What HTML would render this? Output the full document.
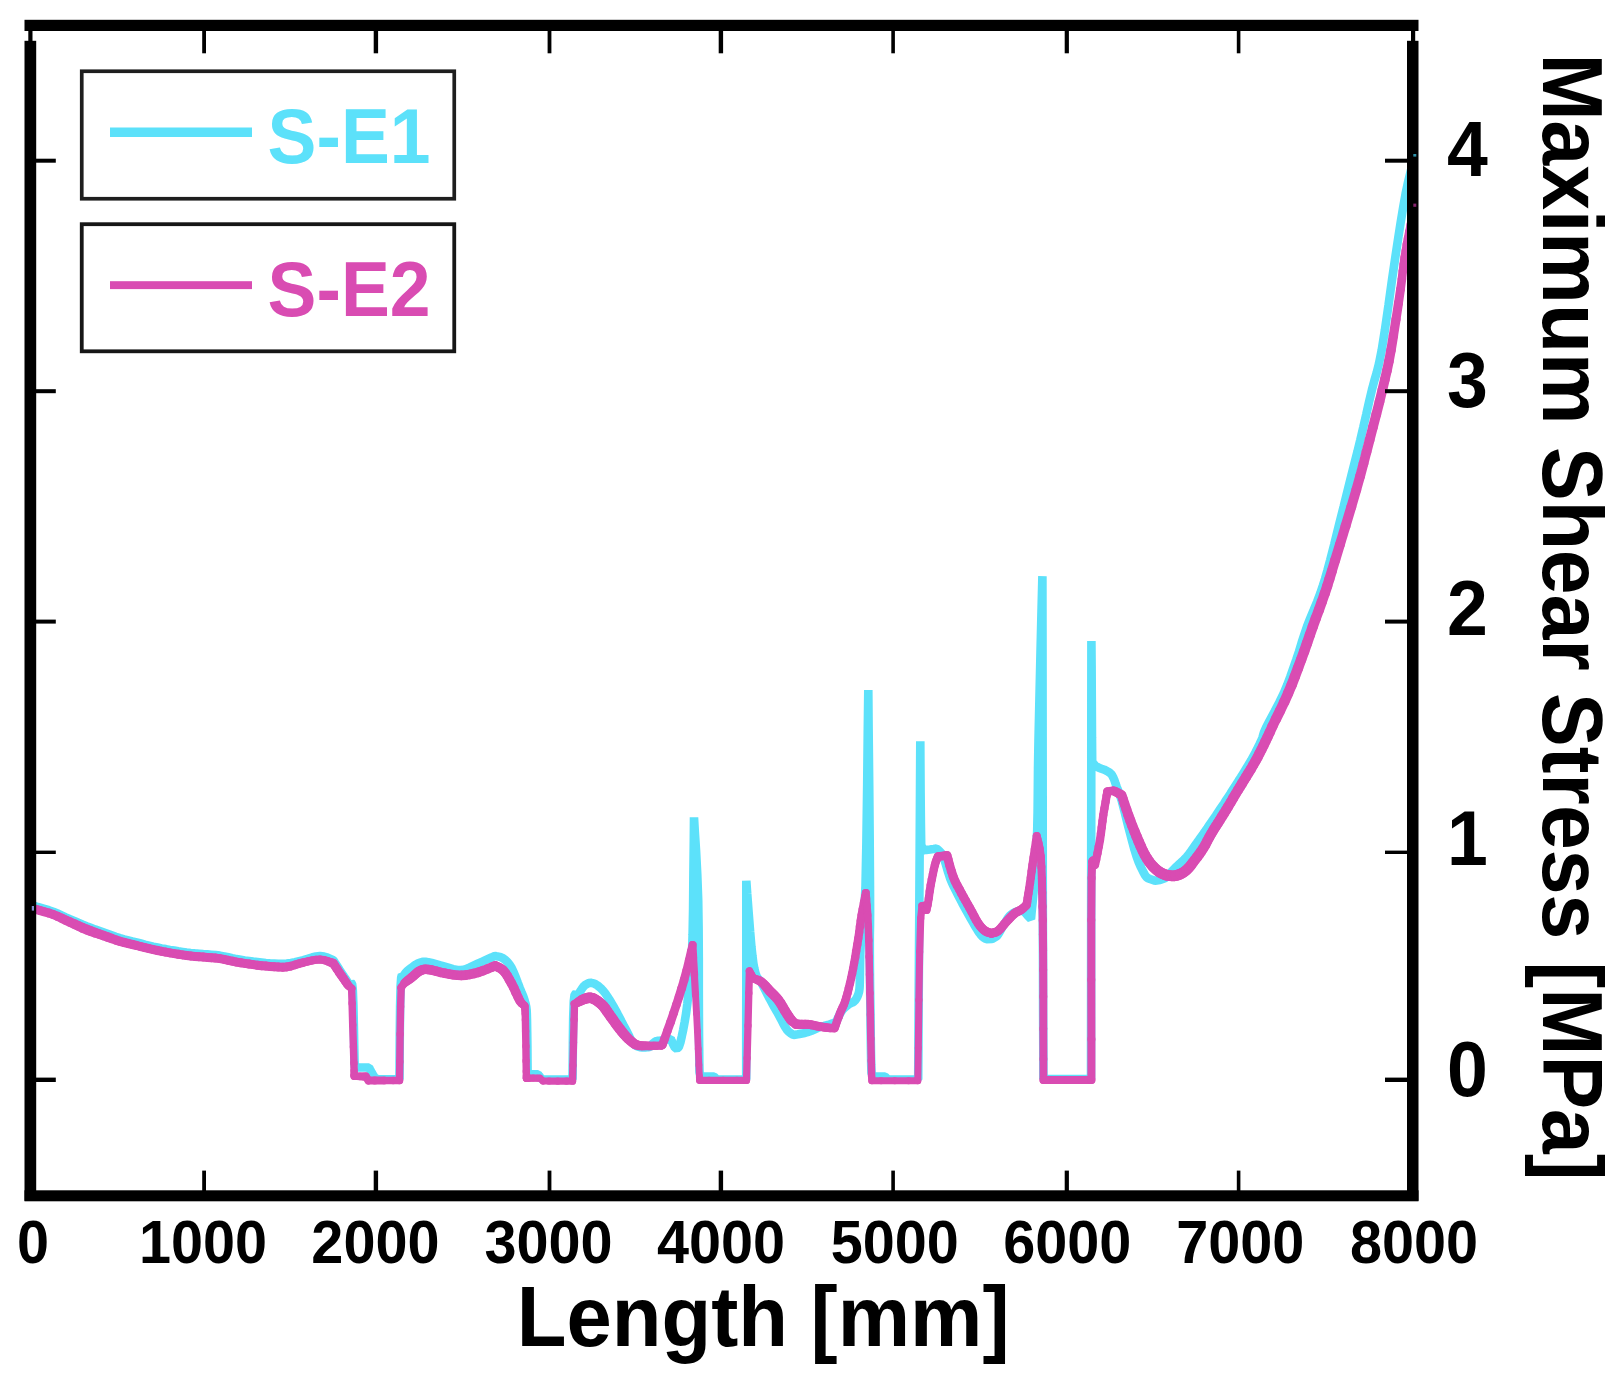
<!DOCTYPE html>
<html lang="en">
<head>
<meta charset="utf-8">
<title>Maximum Shear Stress vs Length</title>
<style>
html,body{margin:0;padding:0;background:#fff;}
body{width:1621px;height:1382px;overflow:hidden;position:relative;}
svg{display:block;position:absolute;left:0;top:0;filter:blur(0.55px);}
text{font-family:"Liberation Sans",Arial,Helvetica,sans-serif;font-weight:700;fill:#000;}
.xt{font-size:57.6px;text-anchor:middle;}
.yt{font-size:73.4px;text-anchor:start;}
.xl{font-size:81.4px;text-anchor:start;}
.yl{font-size:80.5px;text-anchor:start;}
.lg{font-size:73.3px;text-anchor:start;}
</style>
</head>
<body>
<svg width="1621" height="1382" viewBox="0 0 1621 1382">
<rect x="0" y="0" width="1621" height="1382" fill="#ffffff"/>
<!-- data series -->
<defs><clipPath id="plotclip"><rect x="26" y="22" width="1391" height="1178"/></clipPath></defs>
<g clip-path="url(#plotclip)">
<g fill="none" stroke-linejoin="bevel" stroke-linecap="butt">
<polyline stroke="#5ce1fa" stroke-width="8.6" points="29.0,904.6 30.2,904.9 31.8,905.3 34.0,905.9 36.7,906.7 40.2,907.7 44.4,908.9 48.9,910.2 53.3,911.7 57.5,913.4 61.6,915.3 65.8,917.3 70.0,919.2 74.2,921.0 78.3,922.8 82.4,924.5 86.6,926.2 90.8,927.8 94.9,929.4 99.1,930.9 103.3,932.4 107.5,933.9 111.7,935.4 115.8,936.9 120.0,938.2 124.2,939.4 128.3,940.4 132.4,941.4 136.6,942.4 140.8,943.5 144.9,944.6 149.1,945.6 153.3,946.6 157.5,947.5 161.7,948.4 165.8,949.1 170.0,949.9 174.2,950.6 178.3,951.3 182.5,951.9 186.6,952.5 190.7,953.0 194.9,953.4 199.0,953.7 203.2,954.1 207.4,954.4 211.5,954.7 215.7,955.1 219.9,955.6 224.1,956.4 228.2,957.3 232.3,958.2 236.5,959.1 240.7,959.8 244.8,960.5 249.0,961.0 253.2,961.6 257.4,962.1 261.6,962.6 265.8,963.1 270.0,963.4 274.2,963.6 278.4,963.8 282.5,963.8 286.7,963.5 290.9,962.9 295.0,962.1 299.1,961.1 303.3,960.1 307.5,958.9 311.9,957.5 316.1,956.4 320.0,955.9 323.9,956.5 327.7,957.7 331.0,959.1 333.3,960.1 334.9,962.6 337.2,966.1 339.7,970.0 342.0,973.5 343.9,976.4 345.8,979.2 347.5,981.8 349.0,984.0 350.2,984.2 351.2,983.0 352.1,983.8 352.8,990.0 353.4,1005.4 353.9,1027.2 354.3,1048.9 354.6,1064.0 355.0,1067.5 357.8,1067.5 362.0,1067.5 366.2,1067.5 369.0,1067.5 370.1,1069.6 371.8,1072.7 373.6,1075.8 375.0,1078.0 378.0,1079.3 382.6,1079.4 388.9,1079.4 395.2,1079.3 399.5,1079.3 399.6,1060.6 399.8,1033.3 400.1,1005.7 400.6,986.0 401.2,977.4 401.9,975.1 402.8,975.6 404.0,975.0 405.6,972.8 407.5,970.9 409.6,969.2 411.6,967.6 413.6,966.1 415.7,964.7 417.8,963.5 419.9,962.6 421.8,962.1 423.5,961.8 425.5,961.8 428.2,962.2 431.8,963.0 436.0,964.2 440.5,965.5 444.9,966.7 449.1,967.9 453.2,969.1 457.3,970.0 461.5,970.1 465.7,969.2 469.8,967.4 474.0,965.4 478.2,963.4 482.8,961.4 487.6,959.2 491.9,957.3 494.9,955.9 496.4,956.2 498.5,956.6 500.9,957.2 503.2,958.4 505.3,960.0 507.4,961.9 509.4,964.4 511.5,967.6 513.6,972.0 515.8,977.4 517.9,983.0 519.8,988.0 521.5,992.2 523.1,996.0 524.4,999.7 525.5,1003.5 526.2,1006.7 526.6,1009.5 526.8,1013.4 527.0,1020.0 527.2,1031.7 527.4,1046.9 527.5,1061.7 527.6,1072.0 527.8,1074.2 529.9,1074.2 532.9,1074.2 535.9,1074.2 538.0,1074.2 538.8,1075.3 540.0,1076.9 541.2,1078.4 542.0,1079.5 548.2,1079.5 557.2,1079.5 566.3,1079.5 572.5,1079.5 572.7,1063.7 572.9,1040.6 573.2,1017.4 573.8,1001.0 574.6,994.5 575.6,993.7 576.8,995.0 578.0,995.0 579.4,992.8 580.9,990.3 582.5,987.9 584.0,986.0 585.6,984.7 587.4,983.7 588.9,983.1 590.0,982.6 591.0,982.8 592.5,983.2 594.3,983.7 596.0,984.5 597.7,985.6 599.5,987.1 601.4,988.8 603.3,990.9 605.3,993.4 607.3,996.4 609.4,999.6 611.5,1003.0 613.6,1006.7 615.8,1010.6 617.9,1014.6 619.9,1018.3 621.7,1021.7 623.4,1024.9 625.0,1027.9 626.6,1031.0 628.2,1034.2 629.8,1037.5 631.4,1040.6 633.0,1043.0 634.6,1044.7 636.3,1045.9 638.0,1046.6 640.0,1047.2 642.5,1047.5 645.4,1047.4 648.1,1047.1 650.0,1047.0 650.9,1046.0 652.1,1044.4 653.6,1042.9 655.0,1041.7 656.5,1041.1 658.0,1040.8 659.6,1040.7 661.0,1040.5 665.5,1040.0 670.7,1038.4 671.1,1039.5 671.7,1041.0 672.4,1042.6 673.0,1044.0 674.8,1047.5 676.8,1048.8 678.8,1047.0 680.5,1042.0 681.7,1036.7 683.2,1029.8 684.7,1021.7 686.1,1013.2 687.3,1004.0 688.4,993.8 689.3,983.4 690.2,973.3 690.9,965.5 691.6,959.0 692.1,950.1 692.6,935.0 693.1,908.4 693.4,873.8 693.8,840.4 694.0,817.4 694.8,831.5 696.1,851.6 697.3,875.3 698.2,900.0 698.6,927.4 698.8,958.0 698.8,987.8 698.9,1013.0 699.0,1032.8 699.2,1049.3 699.3,1062.3 699.5,1072.0 700.5,1076.5 703.2,1076.5 707.2,1076.5 711.3,1076.5 714.0,1076.5 717.0,1079.5 722.9,1079.5 731.6,1079.5 740.3,1079.5 746.2,1079.5 746.2,1039.1 746.3,980.1 746.3,921.1 746.3,880.7 747.2,893.5 748.6,912.0 750.1,931.3 751.4,946.6 752.5,956.4 753.4,963.5 754.4,968.7 755.5,973.3 756.8,976.8 758.2,978.8 759.8,980.5 761.5,983.0 763.4,986.5 765.5,990.6 767.6,994.8 769.8,999.0 772.1,1003.1 774.4,1007.4 776.8,1011.5 779.0,1015.5 781.1,1019.4 783.0,1023.2 784.9,1026.7 786.7,1029.5 788.6,1031.6 790.5,1033.1 792.1,1034.2 793.3,1035.0 795.1,1034.7 797.8,1034.3 800.7,1033.7 803.3,1033.2 805.5,1032.7 807.5,1032.1 809.6,1031.4 811.6,1030.7 813.7,1029.8 815.8,1028.8 817.9,1027.8 820.0,1027.0 822.0,1026.4 824.0,1026.0 826.0,1025.5 828.0,1025.0 830.2,1024.2 832.5,1023.4 834.6,1022.6 836.0,1022.0 837.1,1019.8 838.6,1016.6 840.3,1013.3 842.0,1010.5 843.7,1008.5 845.6,1006.8 847.4,1005.4 849.1,1004.1 850.7,1003.2 852.2,1002.6 853.6,1001.9 854.9,1000.7 856.1,999.0 857.3,996.9 858.3,994.4 859.1,991.6 859.5,988.7 859.7,985.6 859.8,981.8 859.9,976.6 860.0,970.1 860.1,962.6 860.3,953.7 860.8,943.3 861.8,933.9 863.0,924.8 864.4,910.6 865.5,886.0 866.4,842.2 867.2,784.4 867.8,728.5 868.3,690.0 868.6,728.3 869.2,784.0 869.7,841.7 870.0,886.0 870.1,911.0 870.0,925.5 869.8,936.2 869.8,950.0 869.9,968.8 870.1,989.1 870.4,1008.8 870.6,1026.0 870.8,1040.8 871.0,1054.0 871.2,1065.0 871.5,1073.0 873.0,1076.5 875.4,1076.5 879.0,1076.5 882.6,1076.5 885.0,1076.5 888.0,1079.5 894.1,1079.5 903.1,1079.5 912.1,1079.5 918.2,1079.5 918.6,1010.8 919.3,910.4 919.9,810.0 920.3,741.3 920.4,762.2 920.6,792.8 920.9,823.6 921.2,845.0 923.5,850.2 924.7,850.1 926.3,849.9 928.2,849.7 930.0,849.5 931.8,849.2 933.7,849.0 935.3,848.7 936.5,848.5 937.7,849.5 939.3,850.9 941.2,852.9 943.0,856.0 944.7,860.6 946.4,866.4 948.2,872.5 950.0,878.0 951.9,882.6 953.9,886.9 955.9,890.9 958.0,895.0 960.1,899.1 962.2,903.1 964.4,907.1 966.5,911.0 968.7,915.0 970.9,918.9 973.1,922.7 975.0,926.0 976.7,928.8 978.2,931.2 979.6,933.2 981.0,935.0 982.4,936.5 983.8,937.6 985.1,938.5 986.5,939.1 992.0,939.0 997.0,936.0 998.4,934.0 999.9,931.5 1001.4,928.7 1003.0,926.0 1004.7,923.3 1006.4,920.4 1008.2,917.7 1010.0,915.5 1011.8,914.0 1013.5,912.9 1015.2,912.1 1017.0,911.5 1018.9,911.1 1020.9,911.0 1022.7,911.0 1024.0,911.0 1024.7,911.9 1025.8,913.3 1027.0,914.8 1028.0,916.0 1031.0,919.0 1031.6,912.2 1032.6,902.6 1033.6,891.4 1034.5,880.0 1035.3,869.2 1036.0,858.2 1036.6,845.6 1037.2,830.0 1037.6,812.0 1037.8,792.1 1038.0,768.6 1038.5,740.0 1039.4,700.4 1040.5,652.5 1041.6,607.4 1042.4,576.2 1042.5,637.8 1042.6,726.9 1042.7,821.6 1042.8,900.0 1043.0,959.1 1043.1,1009.7 1043.3,1050.2 1043.4,1079.0 1053.1,1079.0 1067.2,1079.0 1081.3,1079.0 1091.0,1079.0 1091.1,990.0 1091.2,860.0 1091.3,730.0 1091.4,641.0 1091.6,665.6 1091.8,701.5 1092.0,737.4 1092.2,762.0 1092.9,762.8 1093.8,764.0 1095.0,765.4 1096.6,766.6 1098.8,767.7 1101.5,768.7 1104.3,769.7 1106.6,770.8 1108.4,771.9 1109.9,772.9 1111.2,774.1 1112.4,775.8 1113.5,778.0 1114.6,780.7 1115.5,783.6 1116.6,786.6 1117.7,789.5 1118.9,792.3 1120.1,795.7 1121.5,800.0 1123.0,805.6 1124.7,812.3 1126.5,819.4 1128.3,826.6 1130.3,834.1 1132.4,842.1 1134.5,849.8 1136.6,856.6 1138.7,862.3 1141.0,867.4 1143.1,871.6 1144.9,874.9 1146.4,877.0 1147.7,878.0 1148.8,878.5 1150.0,879.0 1154.9,880.7 1160.0,880.0 1164.9,878.2 1167.0,876.3 1169.5,873.8 1172.2,871.0 1174.9,868.2 1177.8,865.5 1180.8,862.7 1183.9,859.8 1186.6,857.0 1188.9,854.1 1191.0,851.3 1193.0,848.4 1195.0,845.5 1197.1,842.6 1199.1,839.8 1201.1,836.9 1203.2,834.0 1205.3,831.0 1207.3,828.1 1209.4,825.0 1211.5,822.0 1213.6,818.9 1215.7,815.8 1217.8,812.6 1219.9,809.5 1222.0,806.4 1224.1,803.3 1226.1,800.2 1228.2,797.0 1230.3,793.8 1232.3,790.6 1234.4,787.3 1236.5,784.0 1238.6,780.7 1240.8,777.3 1242.9,773.9 1245.0,770.5 1247.1,767.1 1249.1,763.7 1251.2,760.2 1253.2,756.5 1255.4,752.5 1257.6,748.1 1259.7,743.9 1261.5,740.0 1262.6,737.2 1263.2,735.0 1264.0,732.3 1266.0,727.8 1269.6,720.7 1274.4,711.8 1279.4,702.2 1283.8,693.1 1287.3,684.7 1290.4,676.4 1293.3,668.1 1296.2,659.8 1299.0,651.5 1301.5,643.2 1304.2,634.9 1307.0,626.6 1310.2,618.3 1313.7,610.0 1317.2,601.6 1320.3,593.3 1322.8,585.8 1325.0,579.0 1327.3,570.9 1330.2,560.0 1334.2,544.6 1338.8,525.9 1343.6,506.8 1347.8,489.8 1351.3,475.9 1354.4,463.6 1357.4,451.9 1360.3,439.9 1363.3,427.2 1366.3,414.3 1369.1,401.7 1371.9,389.9 1374.4,380.5 1376.7,372.7 1379.0,363.5 1381.7,350.1 1384.9,330.0 1388.5,305.2 1392.0,279.8 1395.3,257.4 1398.1,238.8 1400.7,222.1 1403.2,207.2 1405.6,193.7 1408.2,181.5 1410.9,170.6 1413.3,161.8 1414.9,155.5"/>
</g>
<g fill="none" stroke="#d94cb2" stroke-linecap="round">
<path stroke-width="9.0" d="M29.0 907.5L30.2 907.8"/>
<path stroke-width="9.0" d="M30.2 907.8L31.8 908.2"/>
<path stroke-width="9.0" d="M31.8 908.2L34.0 908.8"/>
<path stroke-width="9.0" d="M34.0 908.8L36.7 909.6"/>
<path stroke-width="9.0" d="M36.7 909.6L40.2 910.6"/>
<path stroke-width="9.0" d="M40.2 910.6L44.4 911.8"/>
<path stroke-width="9.0" d="M44.4 911.8L48.9 913.1"/>
<path stroke-width="9.0" d="M48.9 913.1L53.3 914.6"/>
<path stroke-width="9.1" d="M53.3 914.6L57.5 916.3"/>
<path stroke-width="9.2" d="M57.5 916.3L61.6 918.2"/>
<path stroke-width="9.3" d="M61.6 918.2L65.8 920.2"/>
<path stroke-width="9.4" d="M65.8 920.2L70.0 922.1"/>
<path stroke-width="9.6" d="M70.0 922.1L74.2 924.0"/>
<path stroke-width="9.7" d="M74.2 924.0L78.3 925.9"/>
<path stroke-width="9.8" d="M78.3 925.9L82.4 927.8"/>
<path stroke-width="9.9" d="M82.4 927.8L86.6 929.5"/>
<path stroke-width="9.9" d="M86.6 929.5L90.8 931.1"/>
<path stroke-width="9.8" d="M90.8 931.1L94.9 932.6"/>
<path stroke-width="9.7" d="M94.9 932.6L99.1 934.0"/>
<path stroke-width="9.6" d="M99.1 934.0L103.3 935.5"/>
<path stroke-width="9.5" d="M103.3 935.5L107.5 937.0"/>
<path stroke-width="9.4" d="M107.5 937.0L111.7 938.5"/>
<path stroke-width="9.3" d="M111.7 938.5L115.8 940.0"/>
<path stroke-width="9.2" d="M115.8 940.0L120.0 941.3"/>
<path stroke-width="9.2" d="M120.0 941.3L124.2 942.5"/>
<path stroke-width="9.1" d="M124.2 942.5L128.3 943.5"/>
<path stroke-width="9.1" d="M128.3 943.5L132.4 944.5"/>
<path stroke-width="9.0" d="M132.4 944.5L136.6 945.5"/>
<path stroke-width="9.0" d="M136.6 945.5L140.8 946.6"/>
<path stroke-width="9.0" d="M140.8 946.6L144.9 947.6"/>
<path stroke-width="9.0" d="M144.9 947.6L149.1 948.6"/>
<path stroke-width="9.0" d="M149.1 948.6L153.3 949.6"/>
<path stroke-width="9.0" d="M153.3 949.6L157.5 950.5"/>
<path stroke-width="9.0" d="M157.5 950.5L161.7 951.3"/>
<path stroke-width="9.0" d="M161.7 951.3L165.8 952.1"/>
<path stroke-width="9.0" d="M165.8 952.1L170.0 952.9"/>
<path stroke-width="9.0" d="M170.0 952.9L174.2 953.6"/>
<path stroke-width="9.0" d="M174.2 953.6L178.3 954.3"/>
<path stroke-width="9.0" d="M178.3 954.3L182.5 954.9"/>
<path stroke-width="9.0" d="M182.5 954.9L186.6 955.5"/>
<path stroke-width="9.0" d="M186.6 955.5L190.7 956.0"/>
<path stroke-width="9.0" d="M190.7 956.0L194.9 956.4"/>
<path stroke-width="9.0" d="M194.9 956.4L199.0 956.7"/>
<path stroke-width="9.0" d="M199.0 956.7L203.2 957.1"/>
<path stroke-width="9.0" d="M203.2 957.1L207.4 957.4"/>
<path stroke-width="9.0" d="M207.4 957.4L211.5 957.7"/>
<path stroke-width="9.0" d="M211.5 957.7L215.7 958.1"/>
<path stroke-width="9.0" d="M215.7 958.1L219.9 958.6"/>
<path stroke-width="9.0" d="M219.9 958.6L224.1 959.4"/>
<path stroke-width="9.0" d="M224.1 959.4L228.2 960.3"/>
<path stroke-width="9.0" d="M228.2 960.3L232.3 961.2"/>
<path stroke-width="9.0" d="M232.3 961.2L236.5 962.1"/>
<path stroke-width="9.0" d="M236.5 962.1L240.7 962.8"/>
<path stroke-width="9.0" d="M240.7 962.8L244.8 963.4"/>
<path stroke-width="9.0" d="M244.8 963.4L249.0 964.0"/>
<path stroke-width="9.0" d="M249.0 964.0L253.2 964.6"/>
<path stroke-width="9.0" d="M253.2 964.6L257.4 965.2"/>
<path stroke-width="9.0" d="M257.4 965.2L261.6 965.7"/>
<path stroke-width="9.0" d="M261.6 965.7L265.8 966.1"/>
<path stroke-width="9.0" d="M265.8 966.1L270.0 966.5"/>
<path stroke-width="9.0" d="M270.0 966.5L274.2 966.8"/>
<path stroke-width="9.0" d="M274.2 966.8L278.4 967.1"/>
<path stroke-width="9.0" d="M278.4 967.1L282.5 967.2"/>
<path stroke-width="9.0" d="M282.5 967.2L286.7 966.9"/>
<path stroke-width="8.9" d="M286.7 966.9L290.9 966.1"/>
<path stroke-width="8.8" d="M290.9 966.1L295.0 964.9"/>
<path stroke-width="8.7" d="M295.0 964.9L299.1 963.6"/>
<path stroke-width="8.6" d="M299.1 963.6L303.3 962.5"/>
<path stroke-width="8.4" d="M303.3 962.5L307.5 961.5"/>
<path stroke-width="8.3" d="M307.5 961.5L311.9 960.5"/>
<path stroke-width="8.2" d="M311.9 960.5L316.1 959.8"/>
<path stroke-width="8.1" d="M316.1 959.8L320.0 959.6"/>
<path stroke-width="8.1" d="M320.0 959.6L323.9 960.1"/>
<path stroke-width="8.4" d="M323.9 960.1L327.7 961.3"/>
<path stroke-width="8.6" d="M327.7 961.3L331.0 962.5"/>
<path stroke-width="8.9" d="M331.0 962.5L333.3 963.3"/>
<path stroke-width="9.0" d="M333.3 963.3L334.8 965.6"/>
<path stroke-width="9.0" d="M334.8 965.6L337.0 968.9"/>
<path stroke-width="9.0" d="M337.0 968.9L339.4 972.6"/>
<path stroke-width="9.0" d="M339.4 972.6L341.6 975.8"/>
<path stroke-width="8.9" d="M341.6 975.8L343.5 978.6"/>
<path stroke-width="8.8" d="M343.5 978.6L345.3 981.2"/>
<path stroke-width="8.7" d="M345.3 981.2L346.9 983.6"/>
<path stroke-width="8.6" d="M346.9 983.6L348.3 985.5"/>
<path stroke-width="8.0" d="M348.3 985.5L351.6 988.5"/>
<path stroke-width="7.4" d="M351.6 988.5L352.1 1003.3"/>
<path stroke-width="7.4" d="M352.1 1003.3L352.7 1024.9"/>
<path stroke-width="7.4" d="M352.7 1024.9L353.4 1046.9"/>
<path stroke-width="7.4" d="M353.4 1046.9L353.9 1063.0"/>
<path stroke-width="7.4" d="M353.9 1063.0L354.1 1070.9"/>
<path stroke-width="7.4" d="M354.1 1070.9L354.2 1074.3"/>
<path stroke-width="7.4" d="M354.2 1074.3L354.2 1075.3"/>
<path stroke-width="7.4" d="M354.2 1075.3L354.2 1076.3"/>
<path stroke-width="7.5" d="M354.2 1076.3L356.6 1076.3"/>
<path stroke-width="7.6" d="M356.6 1076.3L360.0 1076.4"/>
<path stroke-width="7.8" d="M360.0 1076.4L363.4 1076.5"/>
<path stroke-width="7.9" d="M363.4 1076.5L365.8 1076.5"/>
<path stroke-width="8.0" d="M365.8 1076.5L368.5 1080.5"/>
<path stroke-width="7.9" d="M368.5 1080.5L374.8 1080.5"/>
<path stroke-width="7.8" d="M374.8 1080.5L384.0 1080.5"/>
<path stroke-width="7.6" d="M384.0 1080.5L393.2 1080.5"/>
<path stroke-width="7.5" d="M393.2 1080.5L399.5 1080.5"/>
<path stroke-width="7.4" d="M399.5 1080.5L399.8 1061.7"/>
<path stroke-width="7.4" d="M399.8 1061.7L400.1 1034.3"/>
<path stroke-width="7.4" d="M400.1 1034.3L400.6 1006.7"/>
<path stroke-width="7.4" d="M400.6 1006.7L401.2 987.5"/>
<path stroke-width="8.0" d="M401.2 987.5L404.5 983.0"/>
<path stroke-width="8.6" d="M404.5 983.0L406.0 981.7"/>
<path stroke-width="8.9" d="M406.0 981.7L407.7 980.4"/>
<path stroke-width="9.1" d="M407.7 980.4L409.7 979.0"/>
<path stroke-width="9.4" d="M409.7 979.0L411.6 977.5"/>
<path stroke-width="9.5" d="M411.6 977.5L413.6 975.8"/>
<path stroke-width="9.5" d="M413.6 975.8L415.7 973.9"/>
<path stroke-width="9.6" d="M415.7 973.9L417.8 972.1"/>
<path stroke-width="9.6" d="M417.8 972.1L419.9 970.8"/>
<path stroke-width="9.6" d="M419.9 970.8L421.8 970.0"/>
<path stroke-width="9.6" d="M421.8 970.0L423.5 969.5"/>
<path stroke-width="9.6" d="M423.5 969.5L425.5 969.3"/>
<path stroke-width="9.6" d="M425.5 969.3L428.2 969.5"/>
<path stroke-width="9.6" d="M428.2 969.5L431.8 970.1"/>
<path stroke-width="9.6" d="M431.8 970.1L436.0 971.2"/>
<path stroke-width="9.6" d="M436.0 971.2L440.5 972.4"/>
<path stroke-width="9.6" d="M440.5 972.4L444.9 973.3"/>
<path stroke-width="9.6" d="M444.9 973.3L449.1 974.1"/>
<path stroke-width="9.6" d="M449.1 974.1L453.2 974.8"/>
<path stroke-width="9.6" d="M453.2 974.8L457.3 975.3"/>
<path stroke-width="9.6" d="M457.3 975.3L461.5 975.4"/>
<path stroke-width="9.6" d="M461.5 975.4L465.7 975.1"/>
<path stroke-width="9.6" d="M465.7 975.1L469.8 974.4"/>
<path stroke-width="9.6" d="M469.8 974.4L474.0 973.5"/>
<path stroke-width="9.6" d="M474.0 973.5L478.2 972.4"/>
<path stroke-width="9.6" d="M478.2 972.4L482.8 970.8"/>
<path stroke-width="9.6" d="M482.8 970.8L487.6 968.9"/>
<path stroke-width="9.6" d="M487.6 968.9L491.9 967.1"/>
<path stroke-width="9.6" d="M491.9 967.1L494.9 965.8"/>
<path stroke-width="9.6" d="M494.9 965.8L496.4 966.4"/>
<path stroke-width="9.6" d="M496.4 966.4L498.5 967.3"/>
<path stroke-width="9.6" d="M498.5 967.3L500.9 968.6"/>
<path stroke-width="9.6" d="M500.9 968.6L503.2 970.4"/>
<path stroke-width="9.6" d="M503.2 970.4L505.3 972.9"/>
<path stroke-width="9.6" d="M505.3 972.9L507.4 976.0"/>
<path stroke-width="9.6" d="M507.4 976.0L509.4 979.6"/>
<path stroke-width="9.6" d="M509.4 979.6L511.5 983.3"/>
<path stroke-width="9.5" d="M511.5 983.3L513.7 987.6"/>
<path stroke-width="9.4" d="M513.7 987.6L515.9 992.5"/>
<path stroke-width="9.2" d="M515.9 992.5L518.0 997.1"/>
<path stroke-width="9.1" d="M518.0 997.1L519.8 1000.7"/>
<path stroke-width="8.8" d="M519.8 1000.7L521.4 1003.0"/>
<path stroke-width="8.4" d="M521.4 1003.0L522.8 1004.4"/>
<path stroke-width="8.0" d="M522.8 1004.4L524.0 1005.3"/>
<path stroke-width="7.6" d="M524.0 1005.3L524.8 1006.0"/>
<path stroke-width="7.4" d="M524.8 1006.0L524.9 1007.6"/>
<path stroke-width="7.4" d="M524.9 1007.6L525.0 1009.8"/>
<path stroke-width="7.4" d="M525.0 1009.8L525.2 1013.5"/>
<path stroke-width="7.4" d="M525.2 1013.5L525.4 1020.0"/>
<path stroke-width="7.4" d="M525.4 1020.0L525.6 1031.3"/>
<path stroke-width="7.4" d="M525.6 1031.3L525.9 1046.2"/>
<path stroke-width="7.4" d="M525.9 1046.2L526.1 1060.9"/>
<path stroke-width="7.4" d="M526.1 1060.9L526.3 1071.5"/>
<path stroke-width="7.4" d="M526.3 1071.5L526.4 1076.5"/>
<path stroke-width="7.4" d="M526.4 1076.5L526.5 1078.1"/>
<path stroke-width="7.4" d="M526.5 1078.1L526.5 1078.0"/>
<path stroke-width="7.4" d="M526.5 1078.0L526.5 1078.2"/>
<path stroke-width="7.4" d="M526.5 1078.2L529.2 1078.2"/>
<path stroke-width="7.2" d="M529.2 1078.2L533.2 1078.2"/>
<path stroke-width="7.2" d="M533.2 1078.2L537.3 1078.2"/>
<path stroke-width="7.0" d="M537.3 1078.2L540.0 1078.2"/>
<path stroke-width="7.0" d="M540.0 1078.2L543.0 1081.1"/>
<path stroke-width="7.0" d="M543.0 1081.1L549.0 1081.1"/>
<path stroke-width="7.2" d="M549.0 1081.1L557.8 1081.1"/>
<path stroke-width="7.2" d="M557.8 1081.1L566.5 1081.1"/>
<path stroke-width="7.4" d="M566.5 1081.1L572.5 1081.1"/>
<path stroke-width="7.4" d="M572.5 1081.1L572.9 1065.4"/>
<path stroke-width="7.4" d="M572.9 1065.4L573.5 1042.5"/>
<path stroke-width="7.4" d="M573.5 1042.5L574.1 1019.7"/>
<path stroke-width="7.4" d="M574.1 1019.7L574.5 1004.0"/>
<path stroke-width="8.2" d="M574.5 1004.0L577.5 1002.5"/>
<path stroke-width="9.2" d="M577.5 1002.5L578.8 1001.8"/>
<path stroke-width="9.5" d="M578.8 1001.8L580.3 1000.9"/>
<path stroke-width="9.8" d="M580.3 1000.9L581.9 1000.0"/>
<path stroke-width="10.1" d="M581.9 1000.0L583.5 999.3"/>
<path stroke-width="10.3" d="M583.5 999.3L585.1 998.7"/>
<path stroke-width="10.4" d="M585.1 998.7L586.8 998.2"/>
<path stroke-width="10.5" d="M586.8 998.2L588.4 997.9"/>
<path stroke-width="10.6" d="M588.4 997.9L590.0 997.8"/>
<path stroke-width="10.6" d="M590.0 997.8L591.5 998.0"/>
<path stroke-width="10.6" d="M591.5 998.0L592.9 998.4"/>
<path stroke-width="10.6" d="M592.9 998.4L594.4 999.1"/>
<path stroke-width="10.6" d="M594.4 999.1L596.0 1000.0"/>
<path stroke-width="10.6" d="M596.0 1000.0L597.7 1001.2"/>
<path stroke-width="10.6" d="M597.7 1001.2L599.5 1002.6"/>
<path stroke-width="10.6" d="M599.5 1002.6L601.4 1004.2"/>
<path stroke-width="10.6" d="M601.4 1004.2L603.3 1006.2"/>
<path stroke-width="10.6" d="M603.3 1006.2L605.2 1008.5"/>
<path stroke-width="10.6" d="M605.2 1008.5L607.0 1011.2"/>
<path stroke-width="10.6" d="M607.0 1011.2L609.0 1014.0"/>
<path stroke-width="10.6" d="M609.0 1014.0L611.0 1016.9"/>
<path stroke-width="10.6" d="M611.0 1016.9L613.2 1019.9"/>
<path stroke-width="10.5" d="M613.2 1019.9L615.4 1023.1"/>
<path stroke-width="10.5" d="M615.4 1023.1L617.7 1026.2"/>
<path stroke-width="10.4" d="M617.7 1026.2L619.9 1029.1"/>
<path stroke-width="10.4" d="M619.9 1029.1L622.0 1031.7"/>
<path stroke-width="10.2" d="M622.0 1031.7L624.0 1034.2"/>
<path stroke-width="10.1" d="M624.0 1034.2L626.0 1036.4"/>
<path stroke-width="10.1" d="M626.0 1036.4L628.0 1038.5"/>
<path stroke-width="9.9" d="M628.0 1038.5L630.1 1040.4"/>
<path stroke-width="9.9" d="M630.1 1040.4L632.2 1042.2"/>
<path stroke-width="9.8" d="M632.2 1042.2L634.3 1043.8"/>
<path stroke-width="9.6" d="M634.3 1043.8L636.6 1044.9"/>
<path stroke-width="9.5" d="M636.6 1044.9L639.0 1045.5"/>
<path stroke-width="9.2" d="M639.0 1045.5L641.5 1045.8"/>
<path stroke-width="9.0" d="M641.5 1045.8L644.1 1045.8"/>
<path stroke-width="8.7" d="M644.1 1045.8L646.6 1045.8"/>
<path stroke-width="8.6" d="M646.6 1045.8L649.1 1045.9"/>
<path stroke-width="8.5" d="M649.1 1045.9L651.6 1045.9"/>
<path stroke-width="8.4" d="M651.6 1045.9L654.0 1045.8"/>
<path stroke-width="8.3" d="M654.0 1045.8L656.0 1045.8"/>
<path stroke-width="8.3" d="M656.0 1045.8L661.3 1045.5"/>
<path stroke-width="8.5" d="M661.3 1045.5L662.4 1044.9"/>
<path stroke-width="8.7" d="M662.4 1044.9L664.4 1039.2"/>
<path stroke-width="8.7" d="M664.4 1039.2L667.3 1031.1"/>
<path stroke-width="8.7" d="M667.3 1031.1L670.6 1022.0"/>
<path stroke-width="8.7" d="M670.6 1022.0L673.6 1013.2"/>
<path stroke-width="8.7" d="M673.6 1013.2L676.3 1005.0"/>
<path stroke-width="8.7" d="M676.3 1005.0L679.0 996.8"/>
<path stroke-width="8.7" d="M679.0 996.8L681.6 988.4"/>
<path stroke-width="8.7" d="M681.6 988.4L684.1 979.9"/>
<path stroke-width="8.6" d="M684.1 979.9L686.6 970.5"/>
<path stroke-width="8.4" d="M686.6 970.5L689.0 960.4"/>
<path stroke-width="8.3" d="M689.0 960.4L691.1 951.3"/>
<path stroke-width="8.1" d="M691.1 951.3L692.6 945.0"/>
<path stroke-width="7.8" d="M692.6 945.0L693.3 957.4"/>
<path stroke-width="7.6" d="M693.3 957.4L694.4 975.1"/>
<path stroke-width="7.2" d="M694.4 975.1L695.5 994.9"/>
<path stroke-width="6.9" d="M695.5 994.9L696.5 1013.2"/>
<path stroke-width="6.8" d="M696.5 1013.2L697.4 1030.8"/>
<path stroke-width="6.8" d="M697.4 1030.8L698.2 1048.9"/>
<path stroke-width="6.8" d="M698.2 1048.9L698.9 1065.0"/>
<path stroke-width="6.8" d="M698.9 1065.0L699.4 1076.5"/>
<path stroke-width="7.0" d="M699.4 1076.5L699.6 1080.3"/>
<path stroke-width="7.2" d="M699.6 1080.3L709.1 1080.3"/>
<path stroke-width="7.2" d="M709.1 1080.3L723.1 1080.3"/>
<path stroke-width="7.2" d="M723.1 1080.3L737.0 1080.3"/>
<path stroke-width="7.2" d="M737.0 1080.3L746.5 1080.3"/>
<path stroke-width="7.2" d="M746.5 1080.3L747.1 1058.1"/>
<path stroke-width="7.3" d="M747.1 1058.1L748.0 1025.6"/>
<path stroke-width="7.3" d="M748.0 1025.6L748.8 993.2"/>
<path stroke-width="7.4" d="M748.8 993.2L749.4 971.0"/>
<path stroke-width="7.5" d="M749.4 971.0L750.2 972.5"/>
<path stroke-width="7.6" d="M750.2 972.5L751.3 974.6"/>
<path stroke-width="7.8" d="M751.3 974.6L752.4 976.8"/>
<path stroke-width="7.9" d="M752.4 976.8L753.2 978.3"/>
<path stroke-width="8.2" d="M753.2 978.3L754.7 978.8"/>
<path stroke-width="8.4" d="M754.7 978.8L756.8 979.6"/>
<path stroke-width="8.8" d="M756.8 979.6L759.2 980.6"/>
<path stroke-width="9.0" d="M759.2 980.6L761.5 982.0"/>
<path stroke-width="9.3" d="M761.5 982.0L763.6 983.9"/>
<path stroke-width="9.5" d="M763.6 983.9L765.8 986.3"/>
<path stroke-width="9.7" d="M765.8 986.3L767.9 988.8"/>
<path stroke-width="9.9" d="M767.9 988.8L770.0 991.2"/>
<path stroke-width="10.0" d="M770.0 991.2L772.1 993.3"/>
<path stroke-width="10.0" d="M772.1 993.3L774.2 995.3"/>
<path stroke-width="10.0" d="M774.2 995.3L776.2 997.5"/>
<path stroke-width="10.0" d="M776.2 997.5L778.3 1000.0"/>
<path stroke-width="10.0" d="M778.3 1000.0L780.5 1003.2"/>
<path stroke-width="10.0" d="M780.5 1003.2L782.7 1006.8"/>
<path stroke-width="10.0" d="M782.7 1006.8L784.8 1010.4"/>
<path stroke-width="10.0" d="M784.8 1010.4L786.7 1013.5"/>
<path stroke-width="10.0" d="M786.7 1013.5L788.3 1015.9"/>
<path stroke-width="10.0" d="M788.3 1015.9L789.6 1017.9"/>
<path stroke-width="10.0" d="M789.6 1017.9L790.8 1019.6"/>
<path stroke-width="10.0" d="M790.8 1019.6L792.0 1021.0"/>
<path stroke-width="9.8" d="M792.0 1021.0L796.0 1024.1"/>
<path stroke-width="9.4" d="M796.0 1024.1L798.5 1024.3"/>
<path stroke-width="9.3" d="M798.5 1024.3L801.7 1024.3"/>
<path stroke-width="9.2" d="M801.7 1024.3L805.1 1024.3"/>
<path stroke-width="9.1" d="M805.1 1024.3L808.3 1024.4"/>
<path stroke-width="9.0" d="M808.3 1024.4L811.3 1024.8"/>
<path stroke-width="8.9" d="M811.3 1024.8L814.3 1025.4"/>
<path stroke-width="8.9" d="M814.3 1025.4L817.2 1026.1"/>
<path stroke-width="8.8" d="M817.2 1026.1L820.0 1026.6"/>
<path stroke-width="8.8" d="M820.0 1026.6L822.7 1027.0"/>
<path stroke-width="8.7" d="M822.7 1027.0L825.4 1027.4"/>
<path stroke-width="8.6" d="M825.4 1027.4L827.9 1027.8"/>
<path stroke-width="8.5" d="M827.9 1027.8L830.0 1028.0"/>
<path stroke-width="8.4" d="M830.0 1028.0L834.6 1028.2"/>
<path stroke-width="8.3" d="M834.6 1028.2L835.6 1025.4"/>
<path stroke-width="8.3" d="M835.6 1025.4L837.0 1021.4"/>
<path stroke-width="8.3" d="M837.0 1021.4L838.6 1017.1"/>
<path stroke-width="8.3" d="M838.6 1017.1L840.0 1013.2"/>
<path stroke-width="8.3" d="M840.0 1013.2L841.3 1010.2"/>
<path stroke-width="8.3" d="M841.3 1010.2L842.5 1007.6"/>
<path stroke-width="8.3" d="M842.5 1007.6L843.8 1004.9"/>
<path stroke-width="8.3" d="M843.8 1004.9L845.0 1001.6"/>
<path stroke-width="8.3" d="M845.0 1001.6L846.3 997.5"/>
<path stroke-width="8.3" d="M846.3 997.5L847.6 992.9"/>
<path stroke-width="8.3" d="M847.6 992.9L848.8 988.1"/>
<path stroke-width="8.3" d="M848.8 988.1L850.0 983.2"/>
<path stroke-width="8.3" d="M850.0 983.2L851.1 978.4"/>
<path stroke-width="8.3" d="M851.1 978.4L852.1 973.7"/>
<path stroke-width="8.3" d="M852.1 973.7L853.1 968.7"/>
<path stroke-width="8.3" d="M853.1 968.7L854.1 963.3"/>
<path stroke-width="8.3" d="M854.1 963.3L855.2 957.4"/>
<path stroke-width="8.3" d="M855.2 957.4L856.2 951.0"/>
<path stroke-width="8.3" d="M856.2 951.0L857.3 944.5"/>
<path stroke-width="8.3" d="M857.3 944.5L858.3 938.3"/>
<path stroke-width="8.3" d="M858.3 938.3L859.2 932.3"/>
<path stroke-width="8.3" d="M859.2 932.3L859.9 926.5"/>
<path stroke-width="8.3" d="M859.9 926.5L860.7 920.7"/>
<path stroke-width="8.3" d="M860.7 920.7L861.6 915.0"/>
<path stroke-width="8.3" d="M861.6 915.0L862.7 908.9"/>
<path stroke-width="8.2" d="M862.7 908.9L863.9 902.5"/>
<path stroke-width="8.1" d="M863.9 902.5L865.0 896.9"/>
<path stroke-width="8.0" d="M865.0 896.9L865.8 893.0"/>
<path stroke-width="7.9" d="M865.8 893.0L866.3 898.3"/>
<path stroke-width="7.8" d="M866.3 898.3L866.9 905.6"/>
<path stroke-width="7.7" d="M866.9 905.6L867.7 915.1"/>
<path stroke-width="7.6" d="M867.7 915.1L868.3 926.6"/>
<path stroke-width="7.5" d="M868.3 926.6L868.8 940.5"/>
<path stroke-width="7.5" d="M868.8 940.5L869.1 956.8"/>
<path stroke-width="7.5" d="M869.1 956.8L869.5 974.6"/>
<path stroke-width="7.5" d="M869.5 974.6L869.9 993.2"/>
<path stroke-width="7.5" d="M869.9 993.2L870.4 1014.7"/>
<path stroke-width="7.5" d="M870.4 1014.7L870.8 1038.8"/>
<path stroke-width="7.5" d="M870.8 1038.8L871.3 1060.8"/>
<path stroke-width="7.5" d="M871.3 1060.8L871.6 1076.5"/>
<path stroke-width="7.2" d="M871.6 1076.5L871.8 1080.7"/>
<path stroke-width="7.0" d="M871.8 1080.7L881.1 1080.7"/>
<path stroke-width="7.0" d="M881.1 1080.7L894.8 1080.7"/>
<path stroke-width="7.0" d="M894.8 1080.7L908.5 1080.7"/>
<path stroke-width="7.0" d="M908.5 1080.7L917.8 1080.7"/>
<path stroke-width="7.0" d="M917.8 1080.7L918.3 1047.9"/>
<path stroke-width="7.1" d="M918.3 1047.9L918.9 1000.0"/>
<path stroke-width="7.1" d="M918.9 1000.0L919.7 951.9"/>
<path stroke-width="7.2" d="M919.7 951.9L920.7 918.3"/>
<path stroke-width="7.3" d="M920.7 918.3L922.0 905.8"/>
<path stroke-width="7.5" d="M922.0 905.8L923.6 905.6"/>
<path stroke-width="7.7" d="M923.6 905.6L925.2 909.6"/>
<path stroke-width="7.9" d="M925.2 909.6L926.6 910.0"/>
<path stroke-width="8.0" d="M926.6 910.0L927.7 904.8"/>
<path stroke-width="8.1" d="M927.7 904.8L928.8 898.2"/>
<path stroke-width="8.2" d="M928.8 898.2L929.7 891.3"/>
<path stroke-width="8.3" d="M929.7 891.3L930.7 885.0"/>
<path stroke-width="8.3" d="M930.7 885.0L931.8 879.4"/>
<path stroke-width="8.3" d="M931.8 879.4L932.9 874.0"/>
<path stroke-width="8.3" d="M932.9 874.0L933.9 869.1"/>
<path stroke-width="8.3" d="M933.9 869.1L934.9 865.0"/>
<path stroke-width="8.3" d="M934.9 865.0L935.8 861.9"/>
<path stroke-width="8.4" d="M935.8 861.9L936.7 859.5"/>
<path stroke-width="8.4" d="M936.7 859.5L937.5 857.8"/>
<path stroke-width="8.5" d="M937.5 857.8L938.0 856.5"/>
<path stroke-width="8.6" d="M938.0 856.5L939.8 856.3"/>
<path stroke-width="8.7" d="M939.8 856.3L942.5 856.0"/>
<path stroke-width="8.8" d="M942.5 856.0L945.2 855.7"/>
<path stroke-width="8.9" d="M945.2 855.7L947.0 855.5"/>
<path stroke-width="9.0" d="M947.0 855.5L948.1 859.4"/>
<path stroke-width="9.0" d="M948.1 859.4L949.6 865.1"/>
<path stroke-width="9.0" d="M949.6 865.1L951.4 871.2"/>
<path stroke-width="9.0" d="M951.4 871.2L953.2 876.7"/>
<path stroke-width="9.0" d="M953.2 876.7L955.1 881.2"/>
<path stroke-width="9.0" d="M955.1 881.2L957.2 885.4"/>
<path stroke-width="9.0" d="M957.2 885.4L959.4 889.4"/>
<path stroke-width="9.0" d="M959.4 889.4L961.5 893.3"/>
<path stroke-width="9.0" d="M961.5 893.3L963.6 897.2"/>
<path stroke-width="9.0" d="M963.6 897.2L965.7 900.9"/>
<path stroke-width="9.0" d="M965.7 900.9L967.8 904.6"/>
<path stroke-width="9.0" d="M967.8 904.6L969.9 908.3"/>
<path stroke-width="9.0" d="M969.9 908.3L972.0 912.2"/>
<path stroke-width="9.0" d="M972.0 912.2L974.2 916.3"/>
<path stroke-width="9.0" d="M974.2 916.3L976.2 920.1"/>
<path stroke-width="9.0" d="M976.2 920.1L978.2 923.3"/>
<path stroke-width="9.0" d="M978.2 923.3L980.0 925.8"/>
<path stroke-width="9.0" d="M980.0 925.8L981.7 927.8"/>
<path stroke-width="9.0" d="M981.7 927.8L983.3 929.5"/>
<path stroke-width="9.0" d="M983.3 929.5L984.9 930.8"/>
<path stroke-width="9.0" d="M984.9 930.8L986.7 931.8"/>
<path stroke-width="9.0" d="M986.7 931.8L988.6 932.5"/>
<path stroke-width="9.0" d="M988.6 932.5L990.3 933.0"/>
<path stroke-width="9.0" d="M990.3 933.0L991.5 933.3"/>
<path stroke-width="9.0" d="M991.5 933.3L992.7 933.0"/>
<path stroke-width="9.0" d="M992.7 933.0L994.3 932.6"/>
<path stroke-width="9.0" d="M994.3 932.6L996.3 932.0"/>
<path stroke-width="9.0" d="M996.3 932.0L998.2 930.8"/>
<path stroke-width="9.0" d="M998.2 930.8L1000.2 929.0"/>
<path stroke-width="9.0" d="M1000.2 929.0L1002.2 926.6"/>
<path stroke-width="9.0" d="M1002.2 926.6L1004.4 924.0"/>
<path stroke-width="9.0" d="M1004.4 924.0L1006.5 921.6"/>
<path stroke-width="9.0" d="M1006.5 921.6L1008.6 919.4"/>
<path stroke-width="9.0" d="M1008.6 919.4L1010.7 917.1"/>
<path stroke-width="9.0" d="M1010.7 917.1L1012.8 915.0"/>
<path stroke-width="9.0" d="M1012.8 915.0L1014.8 913.3"/>
<path stroke-width="9.0" d="M1014.8 913.3L1016.6 912.0"/>
<path stroke-width="9.0" d="M1016.6 912.0L1018.3 911.2"/>
<path stroke-width="9.0" d="M1018.3 911.2L1020.0 910.4"/>
<path stroke-width="9.0" d="M1020.0 910.4L1021.5 909.5"/>
<path stroke-width="8.9" d="M1021.5 909.5L1023.0 908.3"/>
<path stroke-width="8.8" d="M1023.0 908.3L1024.5 907.0"/>
<path stroke-width="8.7" d="M1024.5 907.0L1025.7 905.8"/>
<path stroke-width="8.6" d="M1025.7 905.8L1026.6 905.0"/>
<path stroke-width="8.5" d="M1026.6 905.0L1027.1 902.2"/>
<path stroke-width="8.4" d="M1027.1 902.2L1027.7 898.2"/>
<path stroke-width="8.4" d="M1027.7 898.2L1028.4 893.5"/>
<path stroke-width="8.3" d="M1028.4 893.5L1029.2 888.5"/>
<path stroke-width="8.3" d="M1029.2 888.5L1030.0 883.2"/>
<path stroke-width="8.3" d="M1030.0 883.2L1030.8 877.5"/>
<path stroke-width="8.3" d="M1030.8 877.5L1031.6 871.3"/>
<path stroke-width="8.3" d="M1031.6 871.3L1032.5 864.9"/>
<path stroke-width="8.3" d="M1032.5 864.9L1033.6 857.4"/>
<path stroke-width="8.2" d="M1033.6 857.4L1034.8 849.0"/>
<path stroke-width="8.1" d="M1034.8 849.0L1035.9 841.3"/>
<path stroke-width="8.0" d="M1035.9 841.3L1036.7 836.0"/>
<path stroke-width="8.0" d="M1036.7 836.0L1037.5 839.0"/>
<path stroke-width="8.0" d="M1037.5 839.0L1038.6 843.2"/>
<path stroke-width="8.0" d="M1038.6 843.2L1039.8 848.9"/>
<path stroke-width="8.0" d="M1039.8 848.9L1040.8 856.6"/>
<path stroke-width="8.0" d="M1040.8 856.6L1041.4 866.7"/>
<path stroke-width="8.1" d="M1041.4 866.7L1041.9 878.9"/>
<path stroke-width="8.1" d="M1041.9 878.9L1042.2 892.5"/>
<path stroke-width="8.2" d="M1042.2 892.5L1042.5 906.6"/>
<path stroke-width="8.2" d="M1042.5 906.6L1042.8 920.4"/>
<path stroke-width="8.1" d="M1042.8 920.4L1042.9 934.4"/>
<path stroke-width="8.1" d="M1042.9 934.4L1043.1 950.4"/>
<path stroke-width="8.0" d="M1043.1 950.4L1043.2 969.8"/>
<path stroke-width="8.0" d="M1043.2 969.8L1043.3 996.6"/>
<path stroke-width="7.9" d="M1043.3 996.6L1043.3 1028.8"/>
<path stroke-width="7.9" d="M1043.3 1028.8L1043.4 1059.1"/>
<path stroke-width="7.8" d="M1043.4 1059.1L1043.4 1080.0"/>
<path stroke-width="7.8" d="M1043.4 1080.0L1053.2 1080.0"/>
<path stroke-width="7.9" d="M1053.2 1080.0L1067.4 1080.0"/>
<path stroke-width="7.9" d="M1067.4 1080.0L1081.7 1080.0"/>
<path stroke-width="8.0" d="M1081.7 1080.0L1091.4 1080.0"/>
<path stroke-width="8.0" d="M1091.4 1080.0L1091.4 1039.3"/>
<path stroke-width="8.0" d="M1091.4 1039.3L1091.3 979.8"/>
<path stroke-width="8.0" d="M1091.3 979.8L1091.3 920.0"/>
<path stroke-width="8.0" d="M1091.3 920.0L1091.6 878.0"/>
<path stroke-width="8.0" d="M1091.6 878.0L1092.2 861.7"/>
<path stroke-width="8.1" d="M1092.2 861.7L1093.0 860.4"/>
<path stroke-width="8.2" d="M1093.0 860.4L1094.0 864.6"/>
<path stroke-width="8.3" d="M1094.0 864.6L1095.0 864.9"/>
<path stroke-width="8.3" d="M1095.0 864.9L1096.2 859.5"/>
<path stroke-width="8.3" d="M1096.2 859.5L1097.5 853.1"/>
<path stroke-width="8.3" d="M1097.5 853.1L1098.8 846.4"/>
<path stroke-width="8.3" d="M1098.8 846.4L1100.0 839.9"/>
<path stroke-width="8.3" d="M1100.0 839.9L1100.9 833.6"/>
<path stroke-width="8.3" d="M1100.9 833.6L1101.7 827.4"/>
<path stroke-width="8.3" d="M1101.7 827.4L1102.5 821.1"/>
<path stroke-width="8.3" d="M1102.5 821.1L1103.3 815.0"/>
<path stroke-width="8.3" d="M1103.3 815.0L1104.4 808.5"/>
<path stroke-width="8.3" d="M1104.4 808.5L1105.6 801.7"/>
<path stroke-width="8.3" d="M1105.6 801.7L1106.6 795.7"/>
<path stroke-width="8.3" d="M1106.6 795.7L1107.4 791.5"/>
<path stroke-width="8.7" d="M1107.4 791.5L1113.3 790.8"/>
<path stroke-width="9.1" d="M1113.3 790.8L1115.4 791.6"/>
<path stroke-width="9.2" d="M1115.4 791.6L1117.8 792.9"/>
<path stroke-width="9.3" d="M1117.8 792.9L1120.1 794.1"/>
<path stroke-width="9.4" d="M1120.1 794.1L1121.6 795.0"/>
<path stroke-width="9.6" d="M1121.6 795.0L1122.8 798.6"/>
<path stroke-width="9.7" d="M1122.8 798.6L1124.4 803.6"/>
<path stroke-width="9.8" d="M1124.4 803.6L1126.4 809.4"/>
<path stroke-width="9.9" d="M1126.4 809.4L1128.3 815.0"/>
<path stroke-width="10.1" d="M1128.3 815.0L1130.3 820.4"/>
<path stroke-width="10.1" d="M1130.3 820.4L1132.3 825.9"/>
<path stroke-width="10.2" d="M1132.3 825.9L1134.5 831.4"/>
<path stroke-width="10.4" d="M1134.5 831.4L1136.6 836.6"/>
<path stroke-width="10.4" d="M1136.6 836.6L1138.7 841.6"/>
<path stroke-width="10.5" d="M1138.7 841.6L1140.8 846.4"/>
<path stroke-width="10.5" d="M1140.8 846.4L1142.8 850.9"/>
<path stroke-width="10.6" d="M1142.8 850.9L1144.9 854.9"/>
<path stroke-width="10.6" d="M1144.9 854.9L1147.0 858.4"/>
<path stroke-width="10.7" d="M1147.0 858.4L1149.0 861.5"/>
<path stroke-width="10.7" d="M1149.0 861.5L1151.1 864.2"/>
<path stroke-width="10.8" d="M1151.1 864.2L1153.2 866.6"/>
<path stroke-width="10.8" d="M1153.2 866.6L1155.3 868.7"/>
<path stroke-width="10.8" d="M1155.3 868.7L1157.4 870.5"/>
<path stroke-width="10.8" d="M1157.4 870.5L1159.5 872.0"/>
<path stroke-width="10.8" d="M1159.5 872.0L1161.6 873.2"/>
<path stroke-width="10.8" d="M1161.6 873.2L1163.7 874.2"/>
<path stroke-width="10.8" d="M1163.7 874.2L1165.8 874.9"/>
<path stroke-width="10.8" d="M1165.8 874.9L1167.8 875.4"/>
<path stroke-width="10.8" d="M1167.8 875.4L1169.9 875.7"/>
<path stroke-width="10.8" d="M1169.9 875.7L1172.0 875.8"/>
<path stroke-width="10.8" d="M1172.0 875.8L1174.0 875.8"/>
<path stroke-width="10.8" d="M1174.0 875.8L1176.1 875.5"/>
<path stroke-width="10.8" d="M1176.1 875.5L1178.2 874.9"/>
<path stroke-width="10.8" d="M1178.2 874.9L1180.3 874.1"/>
<path stroke-width="10.7" d="M1180.3 874.1L1182.4 873.0"/>
<path stroke-width="10.7" d="M1182.4 873.0L1184.5 871.6"/>
<path stroke-width="10.6" d="M1184.5 871.6L1186.6 869.9"/>
<path stroke-width="10.6" d="M1186.6 869.9L1188.7 867.8"/>
<path stroke-width="10.5" d="M1188.7 867.8L1190.8 865.3"/>
<path stroke-width="10.5" d="M1190.8 865.3L1192.8 862.6"/>
<path stroke-width="10.4" d="M1192.8 862.6L1194.9 859.9"/>
<path stroke-width="10.4" d="M1194.9 859.9L1197.0 857.2"/>
<path stroke-width="10.3" d="M1197.0 857.2L1199.1 854.4"/>
<path stroke-width="10.3" d="M1199.1 854.4L1201.1 851.5"/>
<path stroke-width="10.2" d="M1201.1 851.5L1203.2 848.3"/>
<path stroke-width="10.2" d="M1203.2 848.3L1205.3 844.8"/>
<path stroke-width="10.2" d="M1205.3 844.8L1207.3 840.9"/>
<path stroke-width="10.2" d="M1207.3 840.9L1209.4 837.0"/>
<path stroke-width="10.2" d="M1209.4 837.0L1211.5 833.3"/>
<path stroke-width="10.2" d="M1211.5 833.3L1213.6 829.8"/>
<path stroke-width="10.2" d="M1213.6 829.8L1215.7 826.5"/>
<path stroke-width="10.2" d="M1215.7 826.5L1217.8 823.2"/>
<path stroke-width="10.2" d="M1217.8 823.2L1219.9 819.9"/>
<path stroke-width="10.2" d="M1219.9 819.9L1221.9 816.6"/>
<path stroke-width="10.2" d="M1221.9 816.6L1224.0 813.4"/>
<path stroke-width="10.2" d="M1224.0 813.4L1226.0 810.1"/>
<path stroke-width="10.2" d="M1226.0 810.1L1228.2 806.5"/>
<path stroke-width="10.2" d="M1228.2 806.5L1230.6 802.5"/>
<path stroke-width="10.2" d="M1230.6 802.5L1233.1 798.2"/>
<path stroke-width="10.2" d="M1233.1 798.2L1235.6 794.0"/>
<path stroke-width="10.2" d="M1235.6 794.0L1238.0 790.0"/>
<path stroke-width="10.2" d="M1238.0 790.0L1240.1 786.6"/>
<path stroke-width="10.2" d="M1240.1 786.6L1242.0 783.5"/>
<path stroke-width="10.2" d="M1242.0 783.5L1243.9 780.4"/>
<path stroke-width="10.2" d="M1243.9 780.4L1246.0 777.0"/>
<path stroke-width="10.2" d="M1246.0 777.0L1248.3 773.2"/>
<path stroke-width="10.2" d="M1248.3 773.2L1250.8 769.2"/>
<path stroke-width="10.2" d="M1250.8 769.2L1253.2 765.0"/>
<path stroke-width="10.2" d="M1253.2 765.0L1255.5 761.0"/>
<path stroke-width="10.2" d="M1255.5 761.0L1257.6 757.2"/>
<path stroke-width="10.2" d="M1257.6 757.2L1259.5 753.4"/>
<path stroke-width="10.2" d="M1259.5 753.4L1261.5 749.6"/>
<path stroke-width="10.2" d="M1261.5 749.6L1263.5 745.5"/>
<path stroke-width="10.2" d="M1263.5 745.5L1265.5 741.3"/>
<path stroke-width="10.2" d="M1265.5 741.3L1267.5 737.1"/>
<path stroke-width="10.2" d="M1267.5 737.1L1269.7 732.3"/>
<path stroke-width="10.2" d="M1269.7 732.3L1272.4 726.4"/>
<path stroke-width="10.2" d="M1272.4 726.4L1275.9 719.1"/>
<path stroke-width="10.3" d="M1275.9 719.1L1280.1 710.6"/>
<path stroke-width="10.3" d="M1280.1 710.6L1284.3 701.8"/>
<path stroke-width="10.4" d="M1284.3 701.8L1288.2 693.1"/>
<path stroke-width="10.4" d="M1288.2 693.1L1291.7 684.8"/>
<path stroke-width="10.4" d="M1291.7 684.8L1294.9 676.4"/>
<path stroke-width="10.4" d="M1294.9 676.4L1298.0 668.1"/>
<path stroke-width="10.4" d="M1298.0 668.1L1301.1 659.8"/>
<path stroke-width="10.4" d="M1301.1 659.8L1304.1 651.5"/>
<path stroke-width="10.4" d="M1304.1 651.5L1307.0 643.2"/>
<path stroke-width="10.4" d="M1307.0 643.2L1309.9 634.9"/>
<path stroke-width="10.4" d="M1309.9 634.9L1312.8 626.6"/>
<path stroke-width="10.4" d="M1312.8 626.6L1315.8 618.3"/>
<path stroke-width="10.3" d="M1315.8 618.3L1318.9 610.0"/>
<path stroke-width="10.3" d="M1318.9 610.0L1321.9 601.6"/>
<path stroke-width="10.2" d="M1321.9 601.6L1324.8 593.3"/>
<path stroke-width="10.2" d="M1324.8 593.3L1327.3 585.8"/>
<path stroke-width="10.1" d="M1327.3 585.8L1329.4 579.0"/>
<path stroke-width="10.1" d="M1329.4 579.0L1331.9 570.9"/>
<path stroke-width="10.0" d="M1331.9 570.9L1335.2 560.0"/>
<path stroke-width="10.0" d="M1335.2 560.0L1339.9 544.6"/>
<path stroke-width="9.9" d="M1339.9 544.6L1345.6 525.9"/>
<path stroke-width="9.9" d="M1345.6 525.9L1351.3 506.8"/>
<path stroke-width="9.8" d="M1351.3 506.8L1356.3 489.8"/>
<path stroke-width="9.8" d="M1356.3 489.8L1360.2 475.9"/>
<path stroke-width="9.8" d="M1360.2 475.9L1363.5 463.6"/>
<path stroke-width="9.8" d="M1363.5 463.6L1366.5 451.9"/>
<path stroke-width="9.8" d="M1366.5 451.9L1369.6 439.9"/>
<path stroke-width="9.8" d="M1369.6 439.9L1372.9 427.2"/>
<path stroke-width="9.8" d="M1372.9 427.2L1376.3 414.3"/>
<path stroke-width="9.8" d="M1376.3 414.3L1379.5 401.7"/>
<path stroke-width="9.8" d="M1379.5 401.7L1382.4 389.9"/>
<path stroke-width="9.8" d="M1382.4 389.9L1384.8 379.7"/>
<path stroke-width="9.7" d="M1384.8 379.7L1386.9 370.7"/>
<path stroke-width="9.7" d="M1386.9 370.7L1388.9 361.3"/>
<path stroke-width="9.6" d="M1388.9 361.3L1391.0 350.1"/>
<path stroke-width="9.5" d="M1391.0 350.1L1393.4 335.7"/>
<path stroke-width="9.3" d="M1393.4 335.7L1396.0 319.2"/>
<path stroke-width="9.1" d="M1396.0 319.2L1398.5 303.0"/>
<path stroke-width="8.9" d="M1398.5 303.0L1400.5 289.3"/>
<path stroke-width="8.7" d="M1400.5 289.3L1401.9 279.1"/>
<path stroke-width="8.6" d="M1401.9 279.1L1402.8 271.1"/>
<path stroke-width="8.4" d="M1402.8 271.1L1403.6 264.2"/>
<path stroke-width="8.3" d="M1403.6 264.2L1404.5 257.4"/>
<path stroke-width="8.2" d="M1404.5 257.4L1405.6 250.6"/>
<path stroke-width="8.1" d="M1405.6 250.6L1406.6 244.4"/>
<path stroke-width="8.1" d="M1406.6 244.4L1407.8 238.3"/>
<path stroke-width="8.0" d="M1407.8 238.3L1409.0 232.0"/>
<path stroke-width="8.0" d="M1409.0 232.0L1410.5 224.7"/>
<path stroke-width="8.0" d="M1410.5 224.7L1412.2 216.9"/>
<path stroke-width="8.0" d="M1412.2 216.9L1413.8 209.8"/>
<path stroke-width="8.0" d="M1413.8 209.8L1414.9 204.9"/>
</g>
</g>
<!-- legend -->
<g>
<rect x="81.75" y="71.25" width="372.5" height="127.5" fill="#fff" stroke="#1e1e1e" stroke-width="3.7"/>
<rect x="81.75" y="224.2" width="372.5" height="127.1" fill="#fff" stroke="#161616" stroke-width="3.8"/>
<rect x="110" y="127.5" width="142" height="9.5" fill="#5ce1fa"/>
<rect x="110" y="281.2" width="142" height="7.9" fill="#d94cb2"/>
<text class="lg" transform="translate(267.6,162.8) scale(1,1.065)" style="fill:#5ce1fa">S-E1</text>
<text class="lg" transform="translate(267.6,315.6) scale(1,1.065)" style="fill:#d94cb2">S-E2</text>
</g>
<!-- frame -->
<g fill="#000">
<rect x="24.5" y="19.8" width="1394" height="11.2"/>
<rect x="24.5" y="1190.3" width="1394" height="11"/>
<rect x="24.5" y="40.8" width="11.7" height="1160"/>
<rect x="1407" y="40.8" width="11.5" height="1160"/>
<rect x="28.3" y="30" width="4.2" height="12"/>
<rect x="1411" y="30" width="4.2" height="12"/>
<rect x="202.2" y="30" width="3.8" height="23.3"/>
<rect x="202.2" y="1170.6" width="3.8" height="20.4"/>
<rect x="373.7" y="30" width="4.4" height="23.3"/>
<rect x="373.7" y="1170.6" width="4.4" height="20.4"/>
<rect x="547.6" y="30" width="3.8" height="23.3"/>
<rect x="547.6" y="1170.6" width="3.8" height="20.4"/>
<rect x="718.7" y="30" width="4.4" height="23.3"/>
<rect x="718.7" y="1170.6" width="4.4" height="20.4"/>
<rect x="891.3" y="30" width="3.6" height="23.3"/>
<rect x="891.3" y="1170.6" width="3.6" height="20.4"/>
<rect x="1064.7" y="30" width="4.2" height="23.3"/>
<rect x="1064.7" y="1170.6" width="4.2" height="20.4"/>
<rect x="1236.8" y="30" width="3.6" height="23.3"/>
<rect x="1236.8" y="1170.6" width="3.6" height="20.4"/>
<rect x="35" y="1077.6" width="20.8" height="4.4"/>
<rect x="1385" y="1077.6" width="23" height="4.4"/>
<rect x="35" y="850.6" width="20.8" height="3.4"/>
<rect x="1385" y="850.6" width="23" height="3.4"/>
<rect x="35" y="619.6" width="20.8" height="4.0"/>
<rect x="1385" y="619.6" width="23" height="4.0"/>
<rect x="35" y="389.2" width="20.8" height="4.0"/>
<rect x="1385" y="389.2" width="23" height="4.0"/>
<rect x="35" y="158.7" width="20.8" height="4.0"/>
<rect x="1385" y="158.7" width="23" height="4.0"/>
</g>
<rect x="1413.3" y="154" width="3" height="2.6" fill="#2f93ab"/>
<rect x="1413.3" y="203.6" width="3" height="3.2" fill="#86246e"/>
<rect x="31.8" y="906" width="2.2" height="4.6" fill="#7d8fd0"/>
<!-- x tick labels -->
<g>
<text class="xt" transform="translate(33.0,1262.9) scale(1,1.05)">0</text>
<text class="xt" transform="translate(203.0,1262.9) scale(1,1.05)">1000</text>
<text class="xt" transform="translate(375.4,1262.9) scale(1,1.05)">2000</text>
<text class="xt" transform="translate(548.5,1262.9) scale(1,1.05)">3000</text>
<text class="xt" transform="translate(721.0,1262.9) scale(1,1.05)">4000</text>
<text class="xt" transform="translate(894.8,1262.9) scale(1,1.05)">5000</text>
<text class="xt" transform="translate(1067.2,1262.9) scale(1,1.05)">6000</text>
<text class="xt" transform="translate(1240.2,1262.9) scale(1,1.05)">7000</text>
<text class="xt" transform="translate(1414.0,1262.9) scale(1,1.05)">8000</text>
</g>
<!-- y tick labels -->
<g>
<text class="yt" transform="translate(1446.9,1096.3) scale(1,1.05)">0</text>
<text class="yt" transform="translate(1446.9,865.2) scale(1,1.05)">1</text>
<text class="yt" transform="translate(1446.9,635.1) scale(1,1.05)">2</text>
<text class="yt" transform="translate(1446.9,406.5) scale(1,1.05)">3</text>
<text class="yt" transform="translate(1446.9,175.8) scale(1,1.05)">4</text>
</g>
<!-- axis titles -->
<text class="xl" transform="translate(516.7,1346) scale(1,1.045)">Length [mm]</text>
<text class="yl" transform="translate(1543.4,53.4) rotate(90) scale(1,1.055)">Maximum Shear Stress [MPa]</text>
</svg>
</body>
</html>
